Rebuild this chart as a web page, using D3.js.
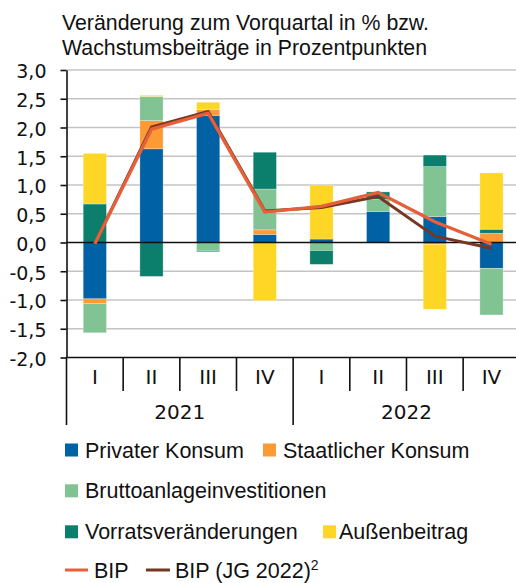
<!DOCTYPE html>
<html>
<head>
<meta charset="utf-8">
<script src="https://cdn.jsdelivr.net/npm/d3@7"></script>
<style>
    body { margin: 0; background: #fff; }
    #chart { width: 516px; height: 583px; }
    .title, .legend-text { font-family: "Liberation Sans", Arial, sans-serif; fill: #111; }
    .tick-label { font-family: "DejaVu Sans", sans-serif; fill: #111; }
</style>
</head>
<body>
<div id="chart"></div>
<script>
// Quartale und Jahre
const quarters = ["I", "II", "III", "IV", "I", "II", "III", "IV"];
const years = ["2021", "2022"];

// Wachstumsbeiträge in Prozentpunkten
const privaterKonsum = [-0.98, 1.63, 2.21, 0.14, 0.06, 0.54, 0.45, -0.45];
const staatlicherKonsum = [-0.08, 0.49, 0.10, 0.08, 0.00, -0.01, -0.03, 0.16];
const bruttoanlage = [-0.51, 0.42, -0.14, 0.71, -0.14, 0.21, 0.87, -0.81];
const vorrat = [0.67, -0.59, -0.02, 0.64, -0.24, 0.13, 0.20, 0.07];
const aussenbeitrag = [0.88, 0.02, 0.13, -1.01, 0.94, 0.00, -1.13, 0.98];

// BIP in %
const bip = [-0.02, 1.97, 2.25, 0.53, 0.63, 0.87, 0.36, -0.03];
const bipJG = [-0.02, 2.01, 2.28, 0.55, 0.61, 0.80, 0.11, -0.10];

const yTicks = [-2, -1.5, -1, -0.5, 0, 0.5, 1, 1.5, 2, 2.5, 3];

const seriesKeys = ["privat", "staat", "brutto", "vorrat", "aussen"];
const seriesNames = ["Privater Konsum", "Staatlicher Konsum", "Bruttoanlageinvestitionen", "Vorratsveränderungen", "Außenbeitrag"];
const colors = {
    privat: "#0062a5",
    staat: "#fc9a35",
    brutto: "#82c393",
    vorrat: "#0b7f6c",
    aussen: "#fed626"
};
const bipColor = "#e5603a";
const jgColor = "#763722";

const svg = d3.select("#chart").append("svg")
    .attr("width", 516)
    .attr("height", 583);

// title
svg.append("text").attr("class", "title")
    .attr("x", 62).attr("y", 30)
    .style("font-size", "21.3px")
    .text("Veränderung zum Vorquartal in % bzw.");
svg.append("text").attr("class", "title")
    .attr("x", 62).attr("y", 55)
    .style("font-size", "21.3px")
    .text("Wachstumsbeiträge in Prozentpunkten");

let plotLeft = 66.5, plotRight = 519.8, plotTop = 70, plotBottom = 357.5;

let x = d3.scaleBand()
    .domain(d3.range(quarters.length))
    .range([plotLeft, plotRight])
    .padding(0);

let y = d3.scaleLinear()
    .domain([-2, 3])
    .range([plotBottom, plotTop]);

let de = d3.formatLocale({ decimal: ",", thousands: ".", grouping: [3], currency: ["", " €"], minus: "-" });
let fmt = de.format(".1f");

// grid lines
svg.append("g")
    .selectAll("line")
    .data(yTicks.filter(d => d !== 0 && d !== -2))
    .enter().append("line")
    .attr("x1", plotLeft)
    .attr("x2", 516)
    .attr("y1", d => y(d))
    .attr("y2", d => y(d))
    .attr("stroke", "#c4c4c4")
    .attr("stroke-width", 1.6);

// stacked bars
let table = quarters.map((q, i) => ({
    privat: privaterKonsum[i],
    staat: staatlicherKonsum[i],
    brutto: bruttoanlage[i],
    vorrat: vorrat[i],
    aussen: aussenbeitrag[i]
}));

let stack = d3.stack().keys(seriesKeys).offset(d3.stackOffsetDiverging);
let stacked = stack(table);

let barWidth = x.bandwidth() * 0.41;

svg.append("g")
    .selectAll("g")
    .data(stacked)
    .enter().append("g")
    .attr("fill", d => colors[d.key])
    .selectAll("rect")
    .data(d => d.map((v, i) => ({ v: v, i: i })))
    .enter().append("rect")
    .attr("x", d => x(d.i) + (x.bandwidth() - barWidth) / 2)
    .attr("width", barWidth)
    .attr("y", d => y(Math.max(d.v[0], d.v[1])))
    .attr("height", d => Math.abs(y(d.v[0]) - y(d.v[1])))
    .attr("stroke", "#fff")
    .attr("stroke-width", 0.8)
    .attr("stroke-opacity", 0.35);

// zero line
svg.append("line")
    .attr("x1", plotLeft).attr("x2", 516)
    .attr("y1", y(0)).attr("y2", y(0))
    .attr("stroke", "#111").attr("stroke-width", 1.6);

// y axis
let yAxis = svg.append("g")
    .attr("transform", `translate(${plotLeft},0)`)
    .call(d3.axisLeft(y).tickValues(yTicks).tickSize(6).tickSizeOuter(0).tickFormat(fmt));

yAxis.select(".domain").attr("stroke", "#111").attr("stroke-width", 1.6);
yAxis.selectAll(".tick line").attr("stroke", "#111").attr("stroke-width", 1.6);
yAxis.selectAll(".tick text")
    .attr("class", "tick-label")
    .attr("x", -20)
    .attr("dy", "0.42em")
    .style("font-size", "19px")
    .style("font-family", "DejaVu Sans, sans-serif")
    .attr("fill", "#111");

// x axis
svg.append("line")
    .attr("x1", plotLeft).attr("x2", 516)
    .attr("y1", plotBottom).attr("y2", plotBottom)
    .attr("stroke", "#111").attr("stroke-width", 1.6);

let boundaries = d3.range(quarters.length + 1);

svg.append("g")
    .selectAll("line")
    .data(boundaries)
    .enter().append("line")
    .attr("x1", i => i < quarters.length ? x(i) : plotRight)
    .attr("x2", i => i < quarters.length ? x(i) : plotRight)
    .attr("y1", plotBottom)
    .attr("y2", i => i % 4 === 0 ? 425 : 391)
    .attr("stroke", "#111")
    .attr("stroke-width", 1.6);

svg.append("g")
    .selectAll("text")
    .data(quarters)
    .enter().append("text")
    .attr("class", "tick-label")
    .attr("x", (d, i) => x(i) + x.bandwidth() / 2)
    .attr("y", 384)
    .attr("text-anchor", "middle")
    .style("font-size", "20px")
    .text(d => d);

svg.append("g")
    .selectAll("text")
    .data(years)
    .enter().append("text")
    .attr("class", "tick-label")
    .attr("x", (d, i) => (x(i * 4) + (i === years.length - 1 ? plotRight : x(i * 4 + 4))) / 2)
    .attr("y", 419)
    .attr("text-anchor", "middle")
    .style("font-size", "20px")
    .text(d => d);

// BIP lines
let line = d3.line()
    .x((d, i) => x(i) + x.bandwidth() / 2)
    .y(d => y(d));

svg.append("path")
    .datum(bipJG)
    .attr("d", line)
    .attr("fill", "none")
    .attr("stroke", jgColor)
    .attr("stroke-width", 3);

svg.append("path")
    .datum(bip)
    .attr("d", line)
    .attr("fill", "none")
    .attr("stroke", bipColor)
    .attr("stroke-width", 3.3);

// legend
let legendItems = [
    { key: "privat", sx: 65, tx: 85, row: 0 },
    { key: "staat", sx: 263, tx: 283, row: 0 },
    { key: "brutto", sx: 65, tx: 85, row: 1 },
    { key: "vorrat", sx: 65, tx: 85, row: 2 },
    { key: "aussen", sx: 323, tx: 339, row: 2 }
];
let rowBase = [457.5, 498.3, 539.3, 577.5];

let legend = svg.append("g");

legendItems.forEach(item => {
    legend.append("rect")
        .attr("x", item.sx)
        .attr("y", rowBase[item.row] - 14)
        .attr("width", 13)
        .attr("height", 13)
        .attr("fill", colors[item.key]);
    legend.append("text")
        .attr("class", "legend-text")
        .attr("x", item.tx)
        .attr("y", rowBase[item.row])
        .style("font-size", "21.5px")
        .text(seriesNames[seriesKeys.indexOf(item.key)]);
});

legend.append("line")
    .attr("x1", 65).attr("x2", 88)
    .attr("y1", rowBase[3] - 7.5).attr("y2", rowBase[3] - 7.5)
    .attr("stroke", bipColor).attr("stroke-width", 3);
legend.append("text")
    .attr("class", "legend-text")
    .attr("x", 94).attr("y", rowBase[3])
    .style("font-size", "21.5px")
    .text("BIP");

legend.append("line")
    .attr("x1", 146).attr("x2", 170)
    .attr("y1", rowBase[3] - 7.5).attr("y2", rowBase[3] - 7.5)
    .attr("stroke", jgColor).attr("stroke-width", 3);
let jgText = legend.append("text")
    .attr("class", "legend-text")
    .attr("x", 175).attr("y", rowBase[3])
    .style("font-size", "21.5px")
    .text("BIP (JG 2022)");
jgText.append("tspan")
    .attr("dy", -8)
    .style("font-size", "14px")
    .text("2");
</script>
</body>
</html>
